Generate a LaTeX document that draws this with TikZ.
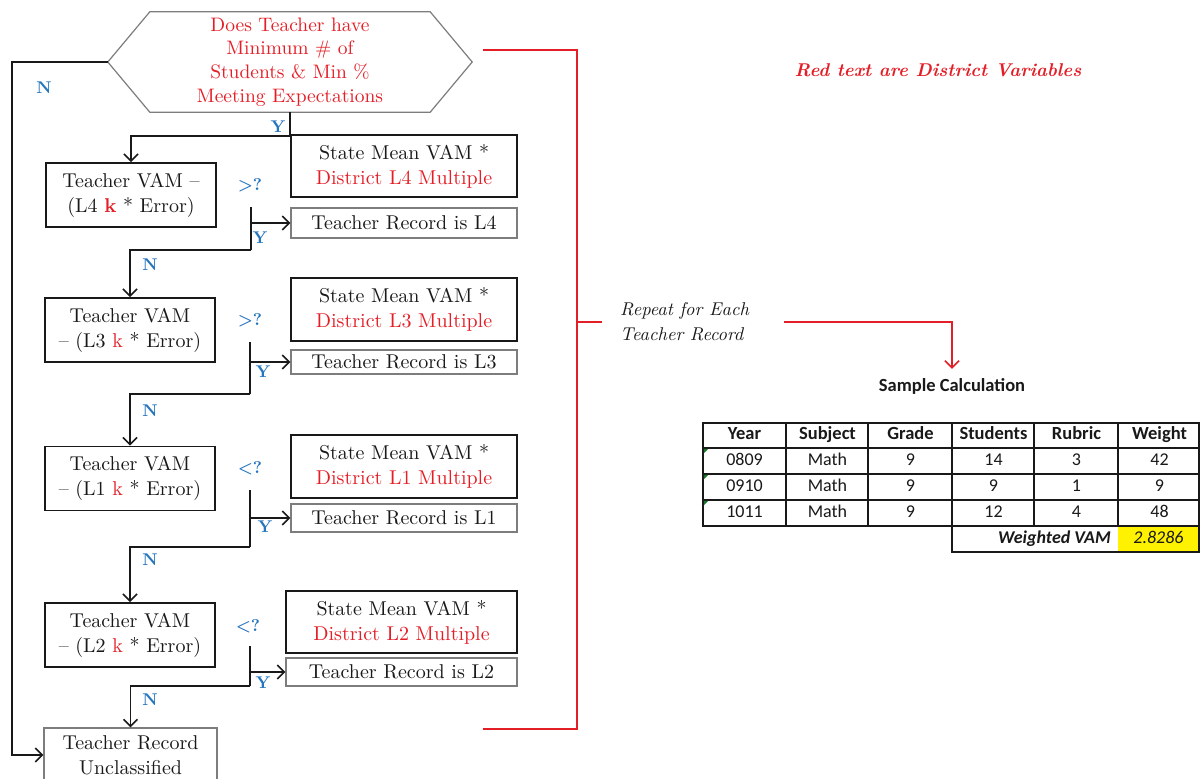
\documentclass[tikz,border=0pt]{standalone}
\usepackage{fontspec}
\setmainfont{lmroman10-regular.otf}[BoldFont=lmroman10-bold.otf, ItalicFont=lmroman10-italic.otf, BoldItalicFont=lmroman10-bolditalic.otf]
\newfontfamily\calib{Carlito}
\usetikzlibrary{arrows.meta,calc}
\definecolor{dred}{RGB}{228,30,38}
\definecolor{lblue}{RGB}{38,118,190}
\definecolor{ink}{RGB}{25,25,25}
\definecolor{boxgray}{RGB}{125,125,125}
\definecolor{xlgreen}{RGB}{20,120,40}
\begin{document}
\begin{tikzpicture}[x=1pt,y=-1pt,
  every node/.style={inner sep=0pt, text=ink},
  fc/.style={font=\fontsize{20}{25}\selectfont, align=center},
  vambox/.style={fc, draw=ink, line width=1.8pt, minimum width=170pt, minimum height=64pt},
  statebox/.style={fc, draw=ink, line width=1.8pt, minimum width=226pt, minimum height=62pt},
  recbox/.style={fc, draw=boxgray, line width=1.2pt, minimum width=226pt},
  yn/.style={font=\fontsize{17}{17}\selectfont\bfseries, text=lblue},
  conn/.style={draw=ink, line width=1.6pt},
  arr/.style={conn, -{Straight Barb[length=7pt,width=14pt,line width=1.6pt]}},
  redline/.style={draw=dred, line width=1.6pt},
  redarr/.style={redline, -{Straight Barb[length=7pt,width=14pt,line width=1.6pt]}},
  tbl/.style={draw=ink, line width=1.6pt},
  cell/.style={font=\calib\fontsize{18}{20}\selectfont, text height=12pt, text depth=3.5pt},
  hcell/.style={cell, font=\calib\fontsize{18.5}{20}\selectfont\bfseries},
  ]
\useasboundingbox[fill=white] (0,0) rectangle (1200,779);

% ---------- decision hexagon ----------
\node[fc, minimum width=364pt, minimum height=100pt, text=dred,
      font=\fontsize{19.5}{23.7}\selectfont] (q) at (290,62)
  {Does Teacher have\\Minimum \# of\\Students \& Min \%\\Meeting Expectations};
\draw[draw=boxgray, line width=1.2pt] (q.west) -- ($(q.north west)+(42,0)$)
  -- ($(q.north east)+(-42,0)$) -- (q.east) -- ($(q.south east)+(-42,0)$)
  -- ($(q.south west)+(42,0)$) -- cycle;

% ---------- L4 ----------
\node[vambox] (v4) at (131,195) {Teacher VAM –\\(L4 \textbf{\color{dred}k} * Error)};
\node[statebox] (s4) at (404,166) {State Mean VAM *\\\textcolor{dred}{District L4 Multiple}};
\node[recbox, minimum height=30pt] (r4) at (404,223) {Teacher Record is L4};

% ---------- L3 ----------
\node[vambox] (v3) at (130,330) {Teacher VAM\\– (L3 \textcolor{dred}{k} * Error)};
\node[statebox, minimum height=63pt] (s3) at (404,309.5) {State Mean VAM *\\\textcolor{dred}{District L3 Multiple}};
\node[recbox, minimum height=24pt] (r3) at (404,362) {Teacher Record is L3};

% ---------- L1 ----------
\node[vambox] (v1) at (130,478.5) {Teacher VAM\\– (L1 \textcolor{dred}{k} * Error)};
\node[statebox, minimum height=63pt] (s1) at (404,466.5) {State Mean VAM *\\\textcolor{dred}{District L1 Multiple}};
\node[recbox, minimum height=28pt] (r1) at (404,518) {Teacher Record is L1};

% ---------- L2 ----------
\node[vambox] (v2) at (130,635) {Teacher VAM\\– (L2 \textcolor{dred}{k} * Error)};
\node[statebox, minimum width=231pt] (s2) at (401.5,622) {State Mean VAM *\\\textcolor{dred}{District L2 Multiple}};
\node[recbox, minimum width=231pt, minimum height=28pt] (r2) at (401.5,672) {Teacher Record is L2};

% ---------- unclassified ----------
\node[fc, draw=boxgray, line width=1.2pt, minimum width=173pt, minimum height=54pt] (un) at (130.5,755)
  {Teacher Record\\Unclassified};

% ---------- connectors ----------
\draw[arr] (q.south) -- ++(0,24) -| (v4.north);

\coordinate (d4t) at (251,207); \coordinate (d4b) at (251,250);
\draw[conn] (d4t) -- (d4b);
\draw[arr] (d4b) -| (v3.north);
\draw[arr] (d4t |- r4.west) -- (r4.west);

\coordinate (d3t) at (250,342); \coordinate (d3b) at (250,394);
\draw[conn] (d3t) -- (d3b);
\draw[arr] (d3b) -| (v1.north);
\draw[arr] (d3t |- r3.west) -- (r3.west);

\coordinate (d1t) at (250,490); \coordinate (d1b) at (250,547);
\draw[conn] (d1t) -- (d1b);
\draw[arr] (d1b) -| (v2.north);
\draw[arr] (d1t |- r1.west) -- (r1.west);

\coordinate (d2t) at (250,646); \coordinate (d2b) at (250,686);
\draw[conn] (d2t) -- (d2b);
\draw[arr] (d2b) -| (un.north);
\draw[arr] (d2t |- r2.west) -- (r2.west);

\coordinate (nl) at (12,62);
\draw[arr] (q.west) -- (nl) |- (un.west);

% ---------- Y / N labels ----------
\node[yn] (n0) at (44,88) {N};
\node[yn] (y0) at (278,127) {Y};
\node[yn] (c4) at (250,185) {>?};
\node[yn] (y4) at (260,238) {Y};
\node[yn] (n4) at (150,265) {N};
\node[yn] (c3) at (250,320) {>?};
\node[yn] (y3) at (263,372) {Y};
\node[yn] (n3) at (150,411) {N};
\node[yn] (c1) at (250,468) {<?};
\node[yn] (y1) at (265,527) {Y};
\node[yn] (n1) at (150,560) {N};
\node[yn] (c2) at (248,626) {<?};
\node[yn] (y2) at (263,683) {Y};
\node[yn] (n2) at (150,700) {N};

% ---------- red bracket ----------
\coordinate (rb1) at (483,50); \coordinate (rb2) at (577,50);
\coordinate (rb3) at (577,729); \coordinate (rb4) at (483,729);
\draw[redline] (rb1) -- (rb2) -- (rb3) -- (rb4);
\coordinate (rbm) at (577,322);
\node[font=\fontsize{18.5}{25}\selectfont\itshape, align=left, anchor=west] (rep) at (620,322)
  {Repeat for Each\\Teacher Record};
\draw[redline] (rbm) -- ($(rep.west)+(-18,0)$);

\node[font=\fontsize{18.5}{20}\selectfont\bfseries\itshape, text=dred] (leg) at (938,70)
  {Red text are District Variables};

\node[font=\calib\fontsize{18.5}{20}\selectfont\bfseries] (sc) at (952,386) {Sample Calculation};
\draw[redarr] ($(rep.east)+(35,0)$) -| ($(sc.north)+(0,-9)$);

% ---------- table ----------
\fill[yellow] (1118,526) rectangle (1199,552);
\draw[tbl] (703,423) rectangle (1199,526);
\foreach \yy in {448,474,500} \draw[tbl] (703,\yy) -- (1199,\yy);
\foreach \xx in {786,868,952,1034,1118} \draw[tbl] (\xx,423) -- (\xx,526);
\draw[tbl] (952,526) -- (952,552) -- (1199,552) -- (1199,526);
\foreach \yy in {448,474,500}
  \fill[xlgreen] (703.8,\yy+0.8) -- ++(4.5,0) -- ++(-4.5,4.5) -- cycle;

\foreach \t [count=\i] in {Year,Subject,Grade,Students,Rubric,Weight}
  \node[hcell] (h\i) at ({703+83*(\i-1)+41.5},435.5) {\t};
\foreach \t [count=\i] in {0809,Math,9,14,3,42}
  \node[cell] (a\i) at ({703+83*(\i-1)+41.5},461) {\t};
\foreach \t [count=\i] in {0910,Math,9,9,1,9}
  \node[cell] (b\i) at ({703+83*(\i-1)+41.5},487) {\t};
\foreach \t [count=\i] in {1011,Math,9,12,4,48}
  \node[cell] (c\i) at ({703+83*(\i-1)+41.5},513) {\t};
\node[cell, font=\calib\fontsize{18}{20}\selectfont\bfseries\itshape, anchor=east] (wv) at (1111,539) {Weighted VAM};
\node[cell, font=\calib\fontsize{18}{20}\selectfont\itshape] (wval) at (1158.5,539) {2.8286};
\end{tikzpicture}
\end{document}
